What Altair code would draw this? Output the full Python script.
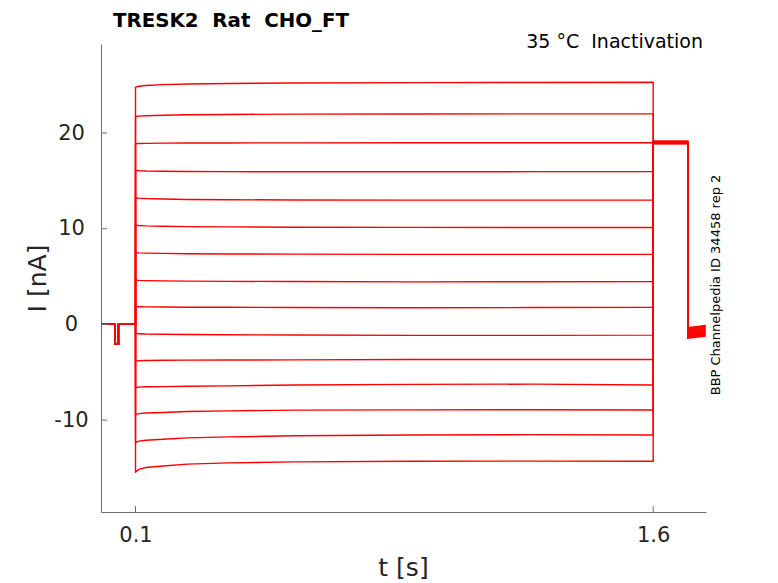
import altair as alt
import pandas as pd

# ---- data ----
title_text = "TRESK2\u00a0\u00a0Rat\u00a0\u00a0CHO_FT"
temp_text = "35 °C\u00a0\u00a0Inactivation"
id_text = "BBP Channelpedia ID 34458 rep 2"

x_ticks = [0.1, 1.6]
y_ticks = [-10, 0, 10, 20]

# holding segment with short dip
t_pre = [0.0, 0.04, 0.04, 0.0505, 0.0505, 0.1]
i_pre = [0.0, 0.0, -2.05, -2.05, 0.0, 0.0]

# prepulse segment (per trace, top to bottom)
t_step = [0.1, 0.101, 0.11, 0.13, 0.18, 0.25, 0.37, 0.56, 0.9, 1.25, 1.6]
step_traces = [
    [24.75, 24.80, 24.88, 24.97, 25.05, 25.12, 25.18, 25.23, 25.26, 25.28, 25.30],
    [21.70, 21.72, 21.76, 21.80, 21.86, 21.90, 21.94, 21.97, 21.98, 22.00, 22.00],
    [18.88, 18.89, 18.90, 18.92, 18.94, 18.95, 18.96, 18.97, 18.98, 18.98, 18.98],
    [16.10, 16.09, 16.06, 16.03, 16.00, 15.98, 15.96, 15.95, 15.95, 15.96, 15.96],
    [13.25, 13.24, 13.20, 13.16, 13.10, 13.06, 13.03, 13.00, 12.99, 12.99, 13.00],
    [10.38, 10.37, 10.34, 10.30, 10.26, 10.22, 10.19, 10.16, 10.14, 10.13, 10.13],
    [7.50, 7.49, 7.47, 7.45, 7.42, 7.39, 7.36, 7.34, 7.32, 7.32, 7.33],
    [4.63, 4.62, 4.60, 4.58, 4.55, 4.52, 4.50, 4.48, 4.45, 4.46, 4.48],
    [1.85, 1.85, 1.84, 1.83, 1.82, 1.80, 1.79, 1.77, 1.74, 1.76, 1.78],
    [-0.95, -0.96, -0.97, -1.00, -1.02, -1.05, -1.08, -1.10, -1.15, -1.14, -1.12],
    [-3.85, -3.84, -3.80, -3.77, -3.75, -3.73, -3.72, -3.70, -3.66, -3.66, -3.66],
    [-6.60, -6.59, -6.55, -6.52, -6.50, -6.46, -6.42, -6.33, -6.26, -6.24, -6.33],
    [-9.45, -9.40, -9.32, -9.25, -9.20, -9.10, -9.03, -8.96, -8.93, -8.92, -8.95],
    [-12.40, -12.33, -12.20, -12.10, -12.00, -11.85, -11.75, -11.64, -11.55, -11.52, -11.55],
    [-15.50, -15.40, -15.15, -14.95, -14.80, -14.60, -14.47, -14.36, -14.30, -14.28, -14.30],
]

# test pulse segment
t_test = [1.6, 1.7]
i_test = [19.15, 19.13, 19.12, 19.10, 19.08, 19.06, 19.04, 19.02, 19.00, 18.98, 18.96,
          18.94, 18.92, 18.90, 18.88]

# tail segment
t_tail = [1.7, 1.752]
i_tail_start = [-0.35, -0.43, -0.51, -0.59, -0.67, -0.75, -0.83, -0.91, -0.99, -1.07,
                -1.15, -1.23, -1.31, -1.38, -1.45]
i_tail_end = [-0.12, -0.20, -0.28, -0.36, -0.44, -0.52, -0.60, -0.68, -0.76, -0.84,
              -0.92, -1.00, -1.08, -1.15, -1.22]

# ---- build table ----
rows = []
for k, tr in enumerate(step_traces):
    ts = t_pre + t_step + t_test + t_tail
    vs = i_pre + tr + [i_test[k], i_test[k]] + [i_tail_start[k], i_tail_end[k]]
    for j, (t, v) in enumerate(zip(ts, vs)):
        rows.append({"trace": k, "idx": j, "t": t, "i": v})
df = pd.DataFrame(rows)

W, H = 605, 468
FONT = "DejaVu Sans"
TXT = "#262626"
AX = "#6e6e6e"

xscale = alt.Scale(domain=[0, 1.753], nice=False, zero=False)
yscale = alt.Scale(domain=[-19.6, 29.3], nice=False, zero=False)

lines = alt.Chart(df).mark_line(color="#ff0000", strokeWidth=1.4, clip=True).encode(
    x=alt.X("t:Q", scale=xscale,
            axis=alt.Axis(values=x_ticks, format=".1f", title="t [s]",
                          labelPadding=12, titleX=302, titleY=63,
                          titleBaseline="alphabetic", titleAnchor="middle")),
    y=alt.Y("i:Q", scale=yscale,
            axis=alt.Axis(values=y_ticks, title="I [nA]", labelAlign="center",
                          labelBaseline="middle", labelPadding=30,
                          labelExpr="datum.value < 0 ? '-' + format(-datum.value, 'd') : format(datum.value, 'd')",
                          titleX=-56, titleY=234, titleAngle=270,
                          titleBaseline="alphabetic", titleAnchor="middle")),
    detail="trace:N",
    order="idx:Q",
)

ytick_rules = alt.Chart(pd.DataFrame({"i": y_ticks})).mark_rule(color=AX, strokeWidth=1).encode(
    y=alt.Y("i:Q", scale=yscale), x=alt.value(0), x2=alt.value(6))
xtick_rules = alt.Chart(pd.DataFrame({"t": x_ticks})).mark_rule(color=AX, strokeWidth=1).encode(
    x=alt.X("t:Q", scale=xscale), y=alt.value(H), y2=alt.value(H - 6))

title_mark = alt.Chart(pd.DataFrame({"s": [title_text]})).mark_text(
    font=FONT, fontSize=19.8, fontWeight="bold", color="#000000", align="left",
    baseline="alphabetic").encode(text="s:N", x=alt.value(12), y=alt.value(-17))
temp_mark = alt.Chart(pd.DataFrame({"s": [temp_text]})).mark_text(
    font=FONT, fontSize=19, color="#000000", align="right",
    baseline="alphabetic").encode(text="s:N", x=alt.value(602), y=alt.value(4))
id_mark = alt.Chart(pd.DataFrame({"s": [id_text]})).mark_text(
    font=FONT, fontSize=13, color="#000000", align="center", angle=270,
    baseline="middle").encode(text="s:N", x=alt.value(615), y=alt.value(241))

chart = alt.layer(lines, ytick_rules, xtick_rules, title_mark, temp_mark, id_mark).properties(
    width=W, height=H,
    padding={"left": 93, "top": 36, "right": 60, "bottom": 70},
    autosize="none",
    background="white",
).configure_view(strokeWidth=0).configure_axis(
    grid=False, ticks=False, domainColor=AX, domainWidth=1,
    labelFont=FONT, labelFontSize=21, labelColor=TXT,
    titleFont=FONT, titleFontSize=25, titleFontWeight="normal", titleColor=TXT,
)

chart.save("out.html", embed_options={"renderer": "svg", "actions": False})
